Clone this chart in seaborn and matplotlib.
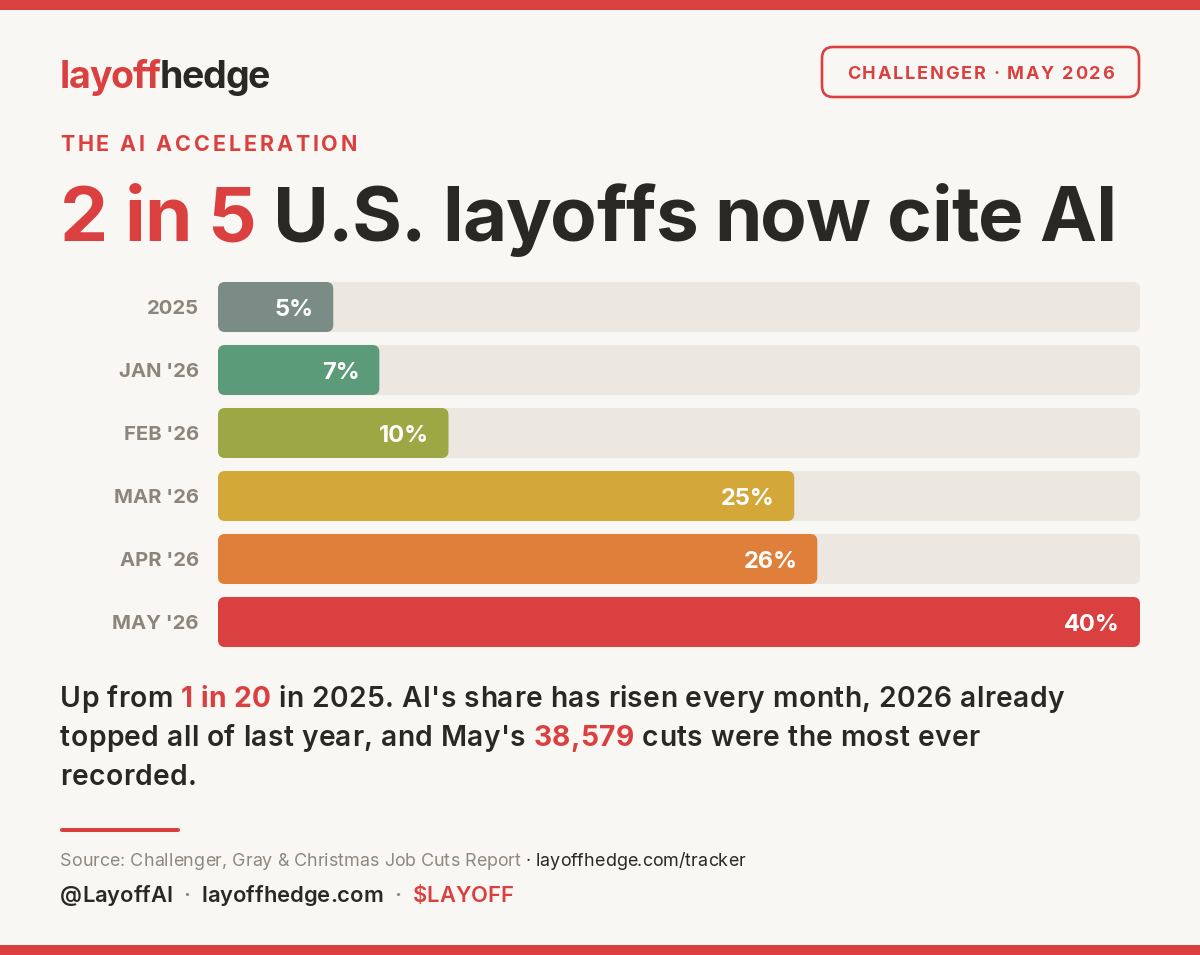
import matplotlib
matplotlib.use('Agg')
import matplotlib.pyplot as plt
import seaborn as sns
import pandas as pd
from matplotlib.patches import FancyBboxPatch, Rectangle
from matplotlib.lines import Line2D
from matplotlib.transforms import Affine2D

# chart data
periods = ['2025', "JAN '26", "FEB '26", "MAR '26", "APR '26", "MAY '26"]
ai_share = [5, 7, 10, 25, 26, 40]
bar_colors = ['#7b8b86', '#5b9b7a', '#9ba843', '#d3a838', '#e07f3a', '#db4040']
scale_max = 40

# palette
BG = '#f9f7f3'
RED = '#db4040'
DARK = '#2a2825'
GRAY = '#8c857c'
SRC_GRAY = '#8f8880'
TRACK = '#ece7e0'
W, H = 1200, 955

sns.set_theme(style='white')
plt.rcParams['font.family'] = ['Inter', 'DejaVu Sans']

fig = plt.figure(figsize=(W / 100, H / 100), dpi=100, facecolor=BG)
R = fig.canvas.get_renderer()
T = Affine2D().scale(1, -1).translate(0, H)   # pixel coords, y measured from top


############################ text helpers ##################################

_cache = {}
def ink_w(s, size, weight):
    key = (s, size, weight)
    if key not in _cache:
        t = fig.text(0, 0, s, fontsize=size, fontweight=weight, transform=T)
        _cache[key] = t.get_window_extent(R).width
        t.remove()
    return _cache[key]

def adv(c, size, weight):
    if c == ' ':
        return ink_w('H H', size, weight) - ink_w('HH', size, weight)
    return ink_w(c + 'H', size, weight) - ink_w('H', size, weight)

def draw_runs(x, y, runs, size, weight='bold', width=None, track=0.0, ha='left'):
    '''
    Draws coloured runs of text char by char so letter spacing can be set,
    either directly (track, px) or by fitting to a target width.
    '''
    chars = []
    for run in runs:
        wt = run[2] if len(run) > 2 else weight
        chars += [(ch, run[1], wt) for ch in run[0]]
    advs = [adv(ch, size, wt) for ch, _, wt in chars]
    natural = sum(advs[:-1]) + ink_w(chars[-1][0], size, chars[-1][2])
    if width is not None:
        track = (width - natural) / (len(chars) - 1)
    total = natural + track * (len(chars) - 1)
    if ha == 'right':
        x -= total
    elif ha == 'center':
        x -= total / 2
    pen = x
    for (ch, col, wt), a in zip(chars, advs):
        if ch != ' ':
            fig.text(pen, y, ch, transform=T, color=col, fontsize=size,
                     fontweight=wt, ha='left', va='baseline')
        pen += a + track
    return track


############################ frame ##################################

fig.add_artist(Rectangle((0, 0), W, 10, transform=T, color=RED, lw=0))
fig.add_artist(Rectangle((0, H - 10), W, 10, transform=T, color=RED, lw=0))

# logo + badge
draw_runs(60, 88, [('layoff', RED), ('hedge', DARK)], 27, width=210)
fig.add_artist(FancyBboxPatch((822, 47), 317, 50, boxstyle='round,pad=0,rounding_size=11',
                              transform=T, fc='none', ec=RED, lw=1.9))
draw_runs(980.5, 79, [('CHALLENGER · MAY 2026', RED)], 13, width=267, ha='center')

# kicker + headline
draw_runs(60, 151, [('THE AI ACCELERATION', RED)], 15.5, width=297)
draw_runs(60, 241, [('2 in 5', RED), (' U.S. layoffs now cite AI', DARK)], 55, width=1057)


############################ bars ##################################

ax = fig.add_axes([218 / W, 1 - 653.5 / H, 922 / W, 378 / H])
df = pd.DataFrame({'period': periods, 'share': ai_share})

sns.barplot(x=[scale_max] * len(periods), y=periods, color=TRACK, width=0.794,
            orient='h', saturation=1, ax=ax)
sns.barplot(data=df, x='share', y='period', hue='period', palette=bar_colors,
            width=0.794, orient='h', saturation=1, legend=False, ax=ax)
ax.set_xlim(0, scale_max)
ax.set_ylim(len(periods) - 0.5, -0.5)
ax.axis('off')

# swap the square bars for rounded ones
bb = ax.get_window_extent(R)
xpu = bb.width / scale_max
ypu = bb.height / len(periods)
for z, p in enumerate(list(ax.patches)):
    x0, y0 = p.get_xy()
    fc = p.get_facecolor()
    w, h = p.get_width(), p.get_height()
    p.remove()
    ax.add_patch(FancyBboxPatch((x0, y0), w, h,
                                boxstyle=f'round,pad=0,rounding_size={7 / xpu}',
                                mutation_aspect=xpu / ypu, fc=fc, ec='none', lw=0,
                                zorder=2 + z * 0.01))

for i, (per, v) in enumerate(zip(periods, ai_share)):
    ax.annotate(f'{v}%', xy=(v, i), xytext=(-20 * 0.72, -17 * 0.727 / 2),
                textcoords='offset points', ha='right', va='baseline',
                color='white', fontsize=17, fontweight='bold', zorder=5)
    ax.annotate(per, xy=(0, i), xytext=(-19 * 0.72, -14.6 * 0.727 / 2),
                textcoords='offset points', ha='right', va='baseline',
                color=GRAY, fontsize=14.6, fontweight='bold', annotation_clip=False)


############################ commentary ##################################

tr = draw_runs(60, 707, [('Up from ', DARK), ('1 in 20', RED, 'bold'),
                         (" in 2025. AI's share has risen every month, 2026 already", DARK)],
               20.3, weight='semibold', width=1004)
draw_runs(60, 746, [("topped all of last year, and May's ", DARK), ('38,579', RED, 'bold'),
                    (' cuts were the most ever', DARK)], 20.3, weight='semibold', track=tr)
draw_runs(60, 785, [('recorded.', DARK)], 20.3, weight='semibold', track=tr)

fig.add_artist(Line2D([62, 178], [830, 830], transform=T, color=RED, lw=2.9,
                      solid_capstyle='round'))

draw_runs(60, 866, [('Source: Challenger, Gray & Christmas Job Cuts Report', SRC_GRAY),
                    (' · layoffhedge.com/tracker', DARK)], 12.9, weight='normal')
draw_runs(60, 902, [('@LayoffAI', DARK), ('  ·  ', GRAY), ('layoffhedge.com', DARK),
                    ('  ·  ', GRAY), ('$LAYOFF', RED)], 15.8, weight='semibold')

fig.savefig('out.png', dpi=100, facecolor=BG)
